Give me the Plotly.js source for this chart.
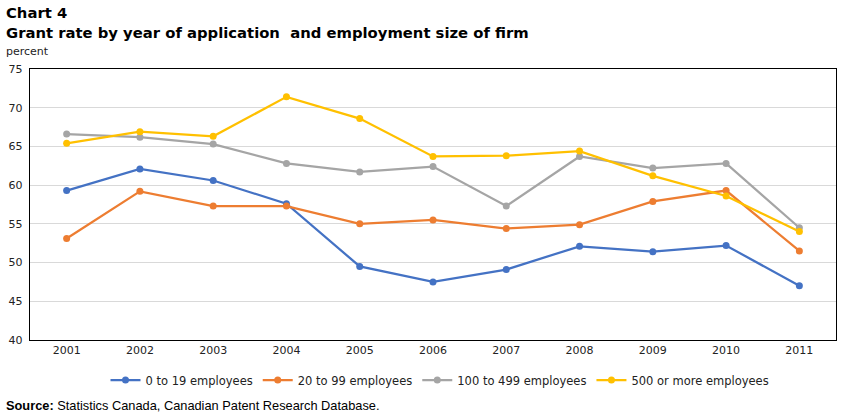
<!DOCTYPE html>
<html>
<head>
<meta charset="utf-8">
<script src="https://cdn.plot.ly/plotly-3.0.1.min.js"></script>
<style>html,body{margin:0;padding:0;background:#fff;}#chart{width:851px;height:417px;}</style>
</head>
<body>
<div id="chart"></div>
<script>
const years = ["2001","2002","2003","2004","2005","2006","2007","2008","2009","2010","2011"];
const seriesNames = ["0 to 19 employees","20 to 99 employees","100 to 499 employees","500 or more employees"];
const small = [59.3, 62.1, 60.6, 57.6, 49.5, 47.5, 49.1, 52.1, 51.4, 52.2, 47.0];
const medium = [53.1, 59.2, 57.3, 57.3, 55.0, 55.5, 54.4, 54.9, 57.9, 59.3, 51.5];
const large = [66.6, 66.2, 65.3, 62.8, 61.7, 62.4, 57.3, 63.7, 62.2, 62.8, 54.5];
const xlarge = [65.4, 66.9, 66.3, 71.4, 68.6, 63.7, 63.8, 64.4, 61.2, 58.6, 54.0];
const colors = ["#4472C4","#ED7D31","#A5A5A5","#FFC000"];
const values = [small, medium, large, xlarge];

const traces = values.map((v, i) => ({
  x: years, y: v, name: seriesNames[i], type: "scatter", mode: "lines+markers",
  line: {color: colors[i], width: 2.25},
  marker: {color: colors[i], size: 7}
}));

// plot area in pixels: x 30..836, y 69..340
const px = x => (x - 30) / 806;
const py = y => (340 - y) / 271;

const layout = {
  width: 851, height: 417,
  margin: {l: 30, r: 15, t: 69, b: 77},
  paper_bgcolor: "#fff", plot_bgcolor: "#fff",
  font: {family: "DejaVu Sans, Verdana, sans-serif", size: 11, color: "#222"},
  showlegend: true,
  legend: {orientation: "h", x: px(440), xanchor: "center", y: py(380), yanchor: "middle",
           font: {size: 11.5, color: "#222"}, itemwidth: 30, traceorder: "normal"},
  xaxis: {type: "category", range: [-0.5, 10.5], showline: true, linecolor: "#000", linewidth: 1.2, mirror: true,
          showgrid: false, ticks: "", tickfont: {size: 11, color: "#222"}, zeroline: false},
  yaxis: {range: [40, 75], dtick: 5, showline: true, linecolor: "#000", linewidth: 1.2, mirror: true,
          gridcolor: "#d9d9d9", gridwidth: 1, ticks: "", tickfont: {size: 11, color: "#222"}, zeroline: false, ticklabelstandoff: 4},
  annotations: [
    {text: "<b>Chart 4</b>", xref: "paper", yref: "paper", x: px(4), y: py(13), xanchor: "left", yanchor: "middle",
     showarrow: false, font: {size: 14.8, color: "#000"}},
    {text: "<b>Grant rate by year of application  and employment size of firm</b>", xref: "paper", yref: "paper",
     x: px(4), y: py(32), xanchor: "left", yanchor: "middle", showarrow: false, font: {size: 14.8, color: "#000"}},
    {text: "percent", xref: "paper", yref: "paper", x: px(4), y: py(51), xanchor: "left", yanchor: "middle",
     showarrow: false, font: {size: 11, color: "#222"}},
    {text: "<b>Source:</b> Statistics Canada, Canadian Patent Research Database.", xref: "paper", yref: "paper",
     x: px(4), y: py(405), xanchor: "left", yanchor: "middle", showarrow: false,
     font: {family: "Liberation Sans, Arial, sans-serif", size: 12.8, color: "#000"}}
  ]
};

Plotly.newPlot("chart", traces, layout, {displayModeBar: false, staticPlot: true});
</script>
</body>
</html>
